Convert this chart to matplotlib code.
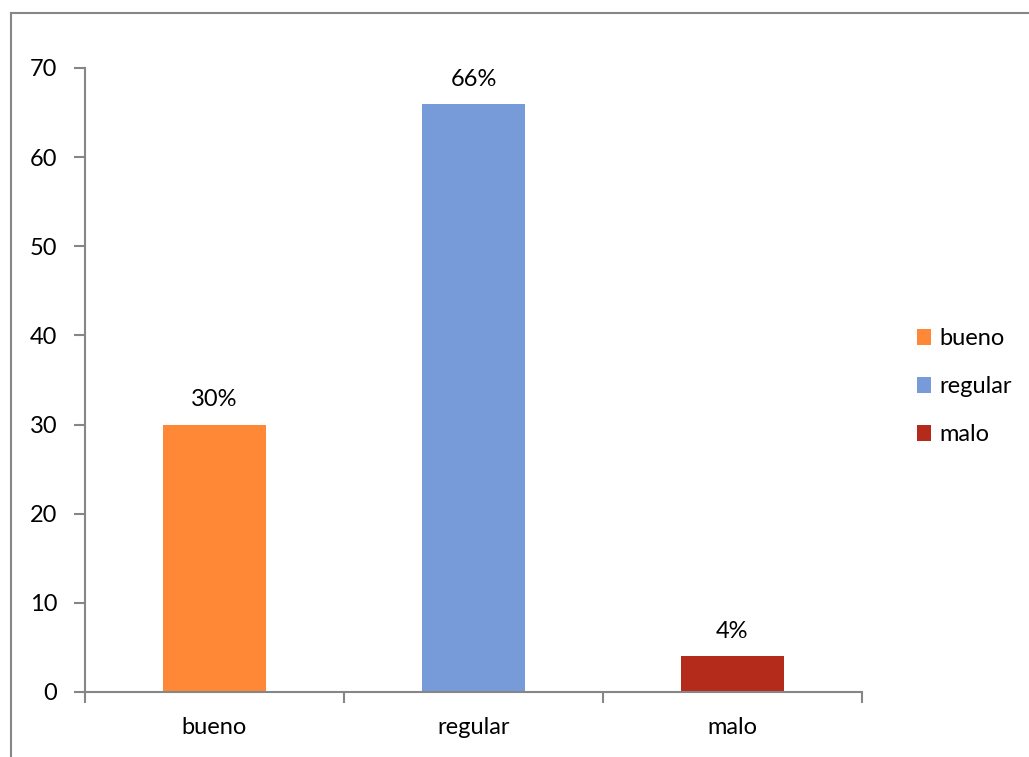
import matplotlib.pyplot as plt
from matplotlib.patches import Patch
from matplotlib.lines import Line2D

categories = ['bueno', 'regular', 'malo']
values = [30, 66, 4]
labels = ['30%', '66%', '4%']
colors = ['#FF8836', '#779AD8', '#B42B1B']

plt.rcParams['font.family'] = ['Lato', 'DejaVu Sans']
plt.rcParams['font.size'] = 17

fig = plt.figure(figsize=(10.29, 7.57), dpi=100)
ax = fig.add_axes([0.0826, 0.0859, 0.7551, 0.8243])

x = range(len(categories))
bars = ax.bar(x, values, width=0.4, color=colors)
for b, lab in zip(bars, labels):
    ax.annotate(lab, (b.get_x() + b.get_width() / 2, b.get_height()),
                xytext=(0, 13), textcoords='offset points',
                ha='center', va='baseline', fontsize=17)

ax.set_xlim(-0.5, 2.5)
ax.set_ylim(0, 70)
ax.set_yticks(range(0, 71, 10))
ax.set_xticks([-0.5, 0.5, 1.5, 2.5])
ax.set_xticklabels([])
ax.set_xticks(list(x), minor=True)
ax.set_xticklabels(categories, minor=True)
ax.tick_params(axis='x', which='minor', length=0, pad=18)
ax.tick_params(axis='x', which='major', length=8, color='#868686', width=1.5)
ax.tick_params(axis='y', length=8, color='#868686', width=1.5, pad=12)
for s in ['top', 'right']:
    ax.spines[s].set_visible(False)
for s in ['left', 'bottom']:
    ax.spines[s].set_color('#868686')
    ax.spines[s].set_linewidth(1.5)

handles = [Patch(facecolor=c, label=cat) for c, cat in zip(colors, categories)]
fig.legend(handles=handles, loc='center left', bbox_to_anchor=(0.891, 0.489),
           frameon=False, handlelength=0.62, handleheight=0.62,
           handletextpad=0.35, labelspacing=1.14, fontsize=17,
           borderaxespad=0, borderpad=0)

# outer chart border
fig.add_artist(Line2D([0.011, 0.011], [0, 0.983], transform=fig.transFigure,
                      color='#868686', lw=1.5))
fig.add_artist(Line2D([0.011, 1.0], [0.983, 0.983], transform=fig.transFigure,
                      color='#868686', lw=1.5))

fig.savefig('out.png', dpi=100)
